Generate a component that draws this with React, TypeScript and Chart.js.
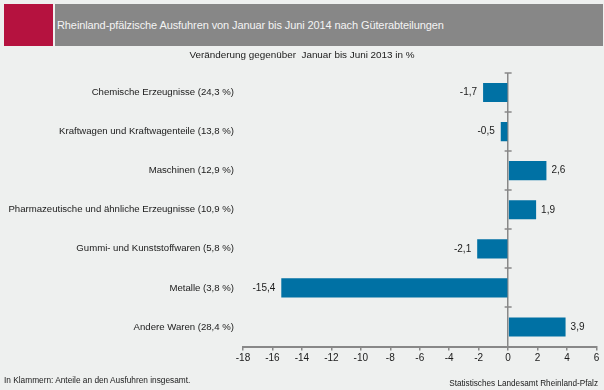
import React, { useEffect, useRef } from "react";
import { Chart, registerables } from "chart.js";

Chart.register(...registerables);

const title = "Rheinland-pfälzische Ausfuhren von Januar bis Juni 2014 nach Güterabteilungen";
const subtitle = "Veränderung gegenüber  Januar bis Juni 2013 in %";
const footLeft = "In Klammern: Anteile an den Ausfuhren insgesamt.";
const footRight = "Statistisches Landesamt Rheinland-Pfalz";

const categories = [
  "Chemische Erzeugnisse (24,3 %)",
  "Kraftwagen und Kraftwagenteile (13,8 %)",
  "Maschinen (12,9 %)",
  "Pharmazeutische und ähnliche Erzeugnisse (10,9 %)",
  "Gummi- und Kunststoffwaren (5,8 %)",
  "Metalle (3,8 %)",
  "Andere Waren (28,4 %)",
];
const values = [-1.7, -0.5, 2.6, 1.9, -2.1, -15.4, 3.9];
const xMin = -18;
const xMax = 6;
const xStep = 2;

const FONT = "'Liberation Sans', Arial, sans-serif";
const AXIS = "#888888";
const BAR = "#0071a4";
const BG = "#eef0ef";

const fmt = (v: number) => v.toFixed(1).replace(".", ",");

const decorPlugin = {
  id: "decor",
  afterDatasetsDraw(chart: any) {
    const ctx = chart.ctx;
    const xs = chart.scales.x;
    const ys = chart.scales.y;
    const x0 = xs.getPixelForValue(0);
    ctx.save();
    ctx.strokeStyle = AXIS;
    ctx.lineWidth = 1.5;
    for (let i = 0; i <= categories.length; i++) {
      const y = Math.round(ys.getPixelForValue(i - 0.5));
      ctx.beginPath();
      ctx.moveTo(x0 - 3.5, y);
      ctx.lineTo(x0 + 3.5, y);
      ctx.stroke();
    }
    ctx.fillStyle = "#1a1a1a";
    ctx.font = `10px ${FONT}`;
    ctx.textBaseline = "middle";
    const meta = chart.getDatasetMeta(0);
    meta.data.forEach((el: any, i: number) => {
      const v = values[i];
      if (v >= 0) {
        ctx.textAlign = "left";
        ctx.fillText(fmt(v), el.x + 5, el.y);
      } else {
        ctx.textAlign = "right";
        ctx.fillText(fmt(v), el.x - 6, el.y);
      }
    });
    ctx.restore();
  },
};

export default function App() {
  const ref = useRef<HTMLCanvasElement | null>(null);
  useEffect(() => {
    if (!ref.current) return;
    const chart = new Chart(ref.current, {
      type: "bar",
      data: {
        labels: categories,
        datasets: [
          {
            data: values,
            backgroundColor: BAR,
            borderWidth: 0,
            barPercentage: 0.49,
            categoryPercentage: 1,
          },
        ],
      },
      options: {
        indexAxis: "y",
        responsive: false,
        animation: false,
        devicePixelRatio: 1,
        layout: { padding: { left: 8, right: 7.5, top: 73, bottom: 23.5 } },
        plugins: {
          legend: { display: false },
          tooltip: { enabled: false },
        },
        scales: {
          x: {
            min: xMin,
            max: xMax,
            afterFit: (s: any) => {
              s.height = 20;
            },
            ticks: {
              stepSize: xStep,
              color: "#1a1a1a",
              font: { family: FONT, size: 10 },
              padding: 2,
              callback: (v: any) => String(v),
            },
            grid: {
              drawOnChartArea: true,
              color: (c: any) => (c.tick && c.tick.value === 0 ? AXIS : "rgba(0,0,0,0)"),
              tickColor: AXIS,
              tickLength: 4,
              lineWidth: 1.5,
            },
            border: { color: AXIS, width: 2 },
          },
          y: {
            afterFit: (s: any) => {
              s.width = 235;
            },
            ticks: {
              color: "#1a1a1a",
              font: { family: FONT, size: 9.6 },
              padding: 9,
            },
            grid: { display: false, drawTicks: false },
            border: { display: false },
          },
        },
      },
      plugins: [decorPlugin],
    } as any);
    return () => chart.destroy();
  }, []);

  return (
    <div
      style={{
        position: "absolute",
        left: 0,
        top: 0,
        width: 604,
        height: 390,
        background: BG,
        fontFamily: FONT,
        overflow: "hidden",
      }}
    >
      <div style={{ position: "absolute", left: 4, top: 4, width: 49, height: 42, background: "#b5123f" }} />
      <div
        style={{
          position: "absolute",
          left: 55,
          top: 4,
          width: 548,
          height: 42,
          background: "#878787",
          color: "#f4f4f4",
          fontSize: 11,
          letterSpacing: -0.1,
          lineHeight: "42px",
          paddingLeft: 2,
          boxSizing: "border-box",
          whiteSpace: "nowrap",
        }}
      >
        {title}
      </div>
      <canvas ref={ref} width={604} height={390} style={{ position: "absolute", left: 0, top: 0 }} />
      <div
        style={{
          position: "absolute",
          left: 0,
          width: 604,
          top: 48,
          textAlign: "center",
          fontSize: 9.9,
          lineHeight: "14px",
          color: "#1a1a1a",
          whiteSpace: "pre",
        }}
      >
        {subtitle}
      </div>
      <div
        style={{
          position: "absolute",
          left: 4,
          top: 375,
          fontSize: 8.3,
          lineHeight: "11px",
          color: "#1a1a1a",
          whiteSpace: "nowrap",
        }}
      >
        {footLeft}
      </div>
      <div
        style={{
          position: "absolute",
          right: 6,
          top: 378,
          fontSize: 8.2,
          lineHeight: "11px",
          color: "#1a1a1a",
          whiteSpace: "nowrap",
        }}
      >
        {footRight}
      </div>
    </div>
  );
}
